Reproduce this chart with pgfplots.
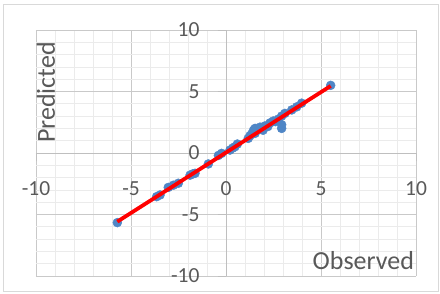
\documentclass[border=0pt]{standalone}
\usepackage{pgfplots}
\pgfplotsset{compat=1.18}
\usepackage{fontspec}
\setmainfont{Carlito}
\definecolor{txt}{HTML}{595959}
\definecolor{mgrid}{HTML}{C9C9C9}
\definecolor{ngrid}{HTML}{EBEBEB}
\definecolor{axc}{HTML}{BFBFBF}
\definecolor{pts}{HTML}{4F86C6}
\definecolor{brd}{HTML}{D9D9D9}
\begin{document}
\begin{tikzpicture}
\useasboundingbox (-36pt,-17pt) rectangle (404pt,276pt);
\draw[brd, line width=0.8pt] (-32.5pt,-15pt) rectangle (402pt,272pt);
\begin{axis}[
  clip mode=individual,
  scale only axis, width=380pt, height=246pt,
  xmin=-10, xmax=10, ymin=-10, ymax=10,
  axis lines=middle,
  axis line style={axc, line width=0.9pt, -},
  xtick={-10,-5,0,5,10}, ytick={-10,-5,0,5,10},
  minor xtick={-9,-8,-7,-6,-4,-3,-2,-1,1,2,3,4,6,7,8,9},
  minor ytick={-9,-8,-7,-6,-4,-3,-2,-1,1,2,3,4,6,7,8,9},
  grid=both,
  major grid style={mgrid, line width=0.8pt},
  minor grid style={ngrid, line width=0.8pt},
  tick style={axc, line width=0.8pt},
  major tick length=8pt, minor tick length=0pt,
  tick align=outside,
  hide obscured x ticks=false, hide obscured y ticks=false,
  ticklabel style={font=\fontsize{21.5}{24}\selectfont, text=txt},
  /pgf/number format/assume math mode=true,
  xticklabel shift=17pt,
  yticklabel shift=15pt,
  clip=false,
]
\addplot[only marks, mark=*, mark size=4.5pt, mark options={fill=pts, draw=pts}] coordinates {
(-5.72,-5.66)
(-3.65,-3.55)
(-3.47,-3.41)
(-3.04,-2.80)
(-2.77,-2.62)
(-2.51,-2.46)
(-1.89,-1.80)
(-1.75,-1.70)
(-1.63,-1.65)
(-0.93,-0.89)
(-0.40,-0.20)
(-0.23,-0.03)
(0.21,0.24)
(0.35,0.40)
(0.47,0.51)
(0.60,0.73)
(1.17,1.19)
(1.26,1.40)
(1.35,1.55)
(1.53,1.60)
(1.45,1.85)
(1.53,2.00)
(1.70,1.95)
(1.79,2.10)
(1.95,1.85)
(2.05,2.20)
(2.20,2.15)
(2.32,2.45)
(2.49,2.60)
(2.60,2.55)
(2.75,2.75)
(2.93,3.00)
(2.93,2.30)
(2.93,2.00)
(3.10,3.22)
(3.46,3.50)
(3.72,3.75)
(3.98,4.05)
(5.51,5.50)
};
\addplot[red, line width=3.8pt, no marks] coordinates {(-5.72,-5.58) (5.51,5.45)};
\node[rotate=90, anchor=base, text=txt, font=\fontsize{26}{30}\selectfont, inner sep=0pt] at (axis cs:-9.0,4.92) {Predicted};
\node[anchor=base, text=txt, font=\fontsize{26}{30}\selectfont, inner sep=0pt] at (axis cs:7.23,-9.46) {Observed};
\end{axis}
\end{tikzpicture}
\end{document}
